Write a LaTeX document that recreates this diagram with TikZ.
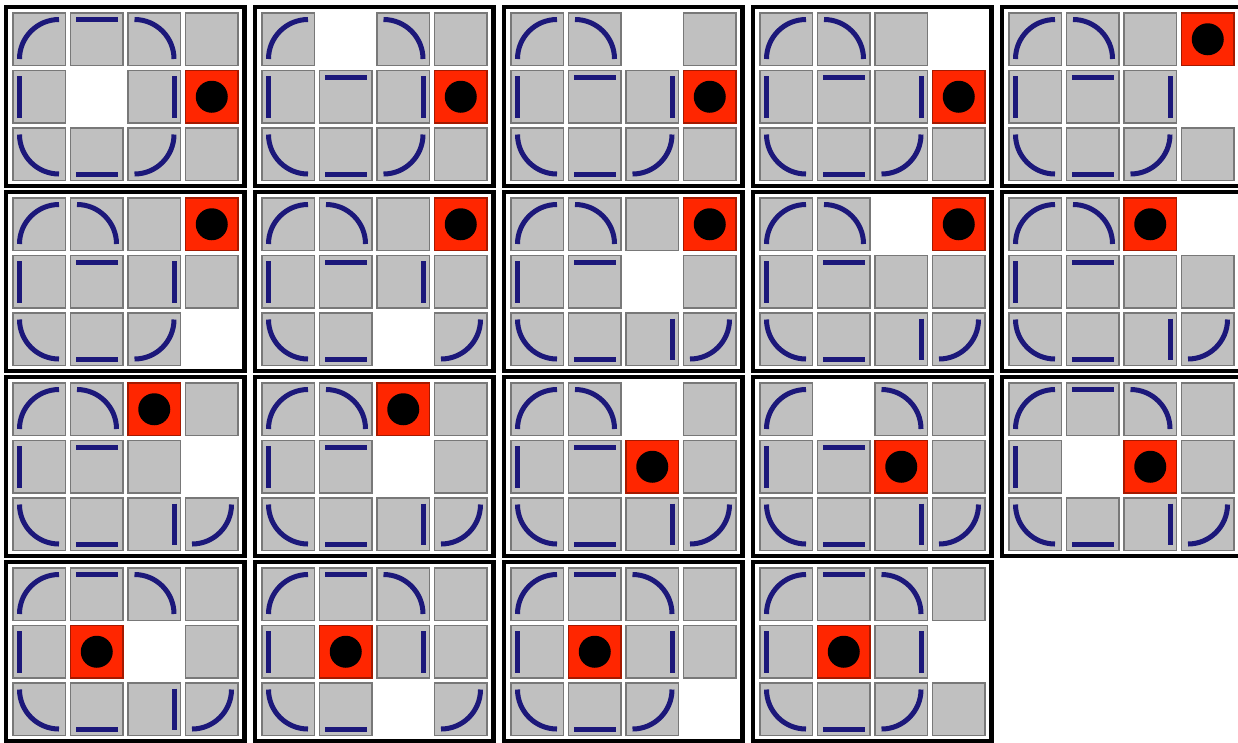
\documentclass[tikz,border=0pt]{standalone}
\usepackage{tikz}
\definecolor{tilegray}{RGB}{192,192,192}
\definecolor{tileedge}{RGB}{120,120,120}
\definecolor{navy}{RGB}{28,24,122}
\definecolor{redtile}{RGB}{255,38,0}
\definecolor{rededge}{RGB}{165,25,0}
\tikzset{
  tileS/.style ={fill=tilegray, draw=tileedge, line width=1.2pt},
  goalS/.style ={fill=redtile, draw=rededge, line width=1.2pt},
  ballS/.style ={fill=black},
  trackS/.style={draw=navy, line width=5pt},
  frameS/.style={draw=black, line width=4.5pt},
}
\newcommand\tileO{}
\newcommand\tileG{\filldraw[tileS] (0,0) rectangle (52.5,-52.5);}
\newcommand\tileX{\filldraw[goalS] (0,0) rectangle (52.5,-52.5); \fill[ballS] (26.25,-26.25) circle[radius=16pt];}
\newcommand\tileA{\tileG\draw[trackS] (6.5,-46) .. controls (6.5,-24.2) and (24.2,-6.5) .. (46,-6.5);}
\newcommand\tileB{\tileG\draw[trackS] (6.5,-6.5) .. controls (28.3,-6.5) and (46,-24.2) .. (46,-46);}
\newcommand\tileC{\tileG\draw[trackS] (6.5,-6.5) .. controls (6.5,-28.3) and (24.2,-46) .. (46,-46);}
\newcommand\tileD{\tileG\draw[trackS] (46,-6.5) .. controls (46,-28.3) and (28.3,-46) .. (6.5,-46);}
\newcommand\tileT{\tileG\draw[trackS] (5.5,-6.5) -- (47,-6.5);}
\newcommand\tileU{\tileG\draw[trackS] (5.5,-46) -- (47,-46);}
\newcommand\tileL{\tileG\draw[trackS] (6.5,-5.5) -- (6.5,-47);}
\newcommand\tileR{\tileG\draw[trackS] (46,-5.5) -- (46,-47);}
\begin{document}
\begin{tikzpicture}[x=1pt,y=1pt]
  \useasboundingbox (0,0) rectangle (1238,-742);
  \foreach \codes [count=\n from 0] in {
    {A,T,B,G,L,O,R,X,C,U,D,G},{A,O,B,G,L,T,R,X,C,U,D,G},{A,B,O,G,L,T,R,X,C,U,D,G},
    {A,B,G,O,L,T,R,X,C,U,D,G},{A,B,G,X,L,T,R,O,C,U,D,G},{A,B,G,X,L,T,R,G,C,U,D,O},
    {A,B,G,X,L,T,R,G,C,U,O,D},{A,B,G,X,L,T,O,G,C,U,R,D},{A,B,O,X,L,T,G,G,C,U,R,D},
    {A,B,X,O,L,T,G,G,C,U,R,D},{A,B,X,G,L,T,G,O,C,U,R,D},{A,B,X,G,L,T,O,G,C,U,R,D},
    {A,B,O,G,L,T,X,G,C,U,R,D},{A,O,B,G,L,T,X,G,C,U,R,D},{A,T,B,G,L,O,X,G,C,U,R,D},
    {A,T,B,G,L,X,O,G,C,U,R,D},{A,T,B,G,L,X,R,G,C,U,O,D},{A,T,B,G,L,X,R,G,C,U,D,O},
    {A,T,B,G,L,X,R,O,C,U,D,G}}{
    \pgfmathtruncatemacro\pcol{mod(\n,5)}
    \pgfmathtruncatemacro\prow{floor(\n/5)}
    \begin{scope}[shift={(13+249*\pcol,-13-185*\prow)}]
      \draw[frameS] (-7,6) rectangle (231.5,-173);
      \foreach \tc [count=\k from 0] in \codes {
        \pgfmathtruncatemacro\tcol{mod(\k,4)}
        \pgfmathtruncatemacro\trow{floor(\k/4)}
        \begin{scope}[shift={(57.5*\tcol,-57.5*\trow)}]
          \csname tile\tc\endcsname
        \end{scope}
      }
    \end{scope}
  }
\end{tikzpicture}
\end{document}
